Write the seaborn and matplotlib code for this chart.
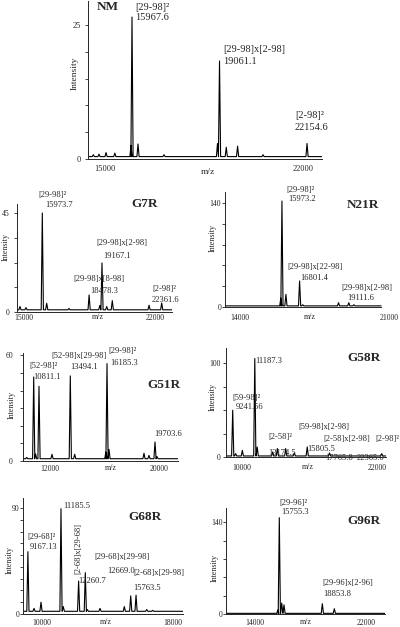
import matplotlib
matplotlib.use("Agg")
import pandas as pd
import matplotlib.pyplot as plt
import matplotlib.transforms as mtransforms
from matplotlib.ticker import MultipleLocator
import seaborn as sns

# ---- peaks: m/z and intensity ----
nm_mz = [14600, 14800, 15050, 15360, 15932, 15967.6, 16180, 17100, 18990, 19061.1, 19300, 19700, 20600, 22154.6]
nm_int = [0.8, 0.9, 1.2, 1.1, 2.5, 26.5, 2.8, 0.8, 2.9, 18.3, 2.2, 2.4, 0.8, 2.9]
nm_base = 0.45

g7r_mz = [14780, 15100, 15973.7, 16209, 17400, 18478.3, 19050, 19167.1, 19420, 19718, 21685, 22361.6]
g7r_int = [2.5, 2.0, 45.2, 4.0, 1.6, 7.8, 3.0, 22.4, 2.5, 5.2, 3.1, 4.1]
g7r_base = 1.0

n21r_mz = [15920, 15973.2, 16160, 16801.4, 16950, 18630, 19111.6, 19350]
n21r_int = [12, 142.7, 17, 35, 3, 5.8, 5.8, 3]
n21r_base = 1.5

g51r_mz = [10300, 10811.1, 10950, 11200, 12153, 13494.1, 13816, 16100, 16185.3, 16330, 18895, 19261, 19703.6, 19850]
g51r_int = [2.0, 47.7, 4.0, 42.4, 3.8, 48.3, 3.8, 5.0, 55.3, 6.6, 4.4, 3.2, 10.8, 2.5]
g51r_base = 1.3

g58r_mz = [9241.56, 9500, 10090, 11187.3, 11400, 12765, 13174.5, 13910, 14668, 15805.5, 17765.8, 22365.0]
g58r_int = [49.8, 3.6, 7.1, 104.8, 10.7, 5.3, 9.0, 9.0, 4.3, 10.7, 4.3, 3.6]
g58r_base = 1.1

g68r_mz = [9167.13, 9540, 9966, 11185.5, 11327, 12260.7, 12669.0, 12790, 13565, 15047, 15438, 15763.5, 16414, 16780]
g68r_int = [52.9, 4.8, 10.0, 89.4, 6.3, 28.0, 35.1, 3.8, 4.8, 6.3, 15.4, 16.0, 3.8, 3.1]
g68r_base = 2.3

g96r_mz = [15650, 15755.3, 15928, 16094, 18853.8, 19717]
g96r_int = [6, 147, 16.7, 14, 15.7, 8.1]
g96r_base = 1.0

# axis ranges and tick labels
nm_x, nm_xt, nm_yt = [14412, 22684], [15000, 22000], [0, 25]
g7r_x, g7r_xt, g7r_yt = [14636, 22913], [15000, 22000], [0, 45]
n21r_x, n21r_xt, n21r_yt = [13299, 21000], [14000, 21000], [0, 140]
g51r_x, g51r_xt, g51r_yt = [10005, 21389], [12000, 20000], [0, 60]
g58r_x, g58r_xt, g58r_yt = [8651, 22744], [10000, 22000], [0, 100]
g68r_x, g68r_xt, g68r_yt = [8850, 18628], [10000, 18000], [0, 90]
g96r_x, g96r_xt, g96r_yt = [11917, 23365], [14000, 22000], [0, 140]

# peak annotations
nm_labels = ["[29-98]²", "15967.6", "[29-98]x[2-98]", "19061.1", "[2-98]²", "22154.6"]
g7r_labels = ["[29-98]²", "15973.7", "[29-98]x[2-98]", "19167.1", "[29-98]x[8-98]", "18478.3", "[2-98]²", "22361.6"]
n21r_labels = ["[29-98]²", "15973.2", "[29-98]x[22-98]", "16801.4", "[29-98]x[2-98]", "19111.6"]
g51r_labels = ["[52-98]²", "10811.1", "[52-98]x[29-98]", "13494.1", "[29-98]²", "16185.3", "19703.6"]
g58r_labels = ["[59-98]²", "9241.56", "11187.3", "[2-58]²", "13174.5", "[59-98]x[2-98]", "15805.5",
               "[2-58]x[2-98]", "17765.8", "[2-98]²", "22365.0"]
g68r_labels = ["[29-68]²", "9167.13", "11185.5", "12260.7", "[29-68]x[29-98]", "12669.0",
               "[2-68]x[29-98]", "15763.5"]
g68r_vlabel = "[2-68]x[29-68]"
g96r_labels = ["[29-96]²", "15755.3", "[29-96]x[2-96]", "18853.8"]

sns.set_style("ticks")
plt.rcParams["font.family"] = ["Liberation Serif", "DejaVu Serif"]

W, H = 400, 627
fig = plt.figure(figsize=(W / 100, H / 100), dpi=100)
PX = mtransforms.Affine2D().scale(1 / W, -1 / H).translate(0, 1) + fig.transFigure


def trace(mz, inten, base, lo, hi, hw):
    xs, ys = [lo], [base]
    for m, h in sorted(zip(mz, inten)):
        xs += [m - hw, m, m + hw]
        ys += [base, h, base]
    xs.append(hi)
    ys.append(base)
    return pd.DataFrame({"mz": xs, "intensity": ys})


def panel(name, mz, inten, base, xr, xt, yt, box, ytop, ystep, ygap, xpad, big=False, spine_end=None):
    l, t, r, b = box
    ax = fig.add_axes([l / W, 1 - b / H, (r - l) / W, (b - t) / H])
    hw = 1.1 * (xr[1] - xr[0]) / (r - l)
    hi = spine_end if spine_end else xr[1]
    df = trace(mz, inten, base, xr[0], hi, hw)
    sns.lineplot(data=df, x="mz", y="intensity", sort=False, estimator=None,
                 color="black", lw=0.8, ax=ax)
    ax.set_xlim(xr)
    ax.set_ylim(0, ytop)
    ax.set_xlabel("")
    ax.set_ylabel("")
    sns.despine(ax=ax)
    for s in ["left", "bottom"]:
        ax.spines[s].set_linewidth(0.7)
    if spine_end:
        ax.spines["bottom"].set_bounds(xr[0], spine_end)
    fs = 6.0 if big else 5.6
    ax.set_xticks(xt)
    ax.set_xticklabels([str(v) for v in xt])
    ax.set_yticks(yt)
    ax.set_yticklabels([str(v) for v in yt])
    ax.yaxis.set_minor_locator(MultipleLocator(ystep))
    ax.tick_params(axis="x", length=0, pad=xpad, labelsize=fs)
    ax.tick_params(axis="y", which="both", length=2, width=0.6, direction="out",
                   pad=max(ygap - 2, 0) * 0.72, labelsize=fs)
    ax.set_facecolor("none")
    return ax


def txt(x, y, s, size=6.1, **kw):
    fig.text(x, y, s, transform=PX, fontsize=size, ha=kw.pop("ha", "left"),
             va=kw.pop("va", "center"), **kw)


# ---- NM ----
panel("NM", nm_mz, nm_int, nm_base, nm_x, nm_xt, nm_yt, (88, 1, 322, 159), 29.5, 5, 6, 4.3, big=True)
for (x, y), s in zip([(135, 7), (135, 17), (223, 49), (223, 62), (295, 115), (295, 128)], nm_labels):
    txt(x, y, s, size=7.5)
txt(97, 7, "NM", size=9.5, weight="bold")
txt(75, 73, "Intensity", size=6.8, ha="center", rotation=90)
txt(208, 172, "m/z", size=6.8, ha="center")

# ---- G7R ----
panel("G7R", g7r_mz, g7r_int, g7r_base, g7r_x, g7r_xt, g7r_yt, (17.3, 204, 172, 312), 49.3, 11.25, 7, 1.5)
for (x, y), s in zip([(38, 195), (45, 205), (96, 243), (103, 256), (73, 279), (90, 291), (152, 289), (152, 300)],
                     g7r_labels):
    txt(x, y, s)
txt(131, 204, "G7R", size=9.5, weight="bold")
txt(6, 247, "Intensity", size=5.8, ha="center", rotation=90)
txt(98, 317, "m/z", size=5.8, ha="center")

# ---- N21R ----
panel("N21R", n21r_mz, n21r_int, n21r_base, n21r_x, n21r_xt, n21r_yt, (225, 192, 389, 307), 154.8, 28, 3, 5,
      spine_end=20629)
for (x, y), s in zip([(286, 190), (288, 199), (287, 267), (300, 278), (341, 288), (347, 298)], n21r_labels):
    txt(x, y, s)
txt(347, 205, "N21R", size=9.5, weight="bold")
txt(213, 238, "Intensity", size=5.8, ha="center", rotation=90)
txt(310, 317, "m/z", size=5.8, ha="center")

# ---- G51R ----
panel("G51R", g51r_mz, g51r_int, g51r_base, g51r_x, g51r_xt, g51r_yt, (22.7, 353, 178, 461), 61.3, 10, 9, 3)
for (x, y), s in zip([(29, 366), (33, 377), (51, 356), (70, 367), (108, 351), (110, 363), (154, 434)], g51r_labels):
    txt(x, y, s)
txt(147, 385, "G51R", size=9.5, weight="bold")
txt(12, 405, "Intensity", size=5.8, ha="center", rotation=90)
txt(111, 468, "m/z", size=5.8, ha="center")

# ---- G58R ----
panel("G58R", g58r_mz, g58r_int, g58r_base, g58r_x, g58r_xt, g58r_yt, (226, 348, 386, 457), 116, 25, 5, 5)
for (x, y), s in zip([(232, 398), (236, 407), (255, 361), (268, 437), (268, 453), (298, 427), (307, 449),
                      (323, 439), (325, 458), (375, 439), (357, 458)], g58r_labels):
    txt(x, y, s)
txt(347, 358, "G58R", size=9.5, weight="bold")
txt(213, 397, "Intensity", size=5.8, ha="center", rotation=90)
txt(308, 467, "m/z", size=5.8, ha="center")

# ---- G68R ----
panel("G68R", g68r_mz, g68r_int, g68r_base, g68r_x, g68r_xt, g68r_yt, (22.7, 498, 183, 614), 98.5, 10, 2.5, 3.6)
for (x, y), s in zip([(27, 537), (30, 547), (63, 506), (78, 581), (94, 557), (107, 571), (133, 573), (133, 588)],
                     g68r_labels):
    txt(x, y, s)
txt(78, 548, g68r_vlabel, ha="center", rotation=90)
txt(128, 517, "G68R", size=9.5, weight="bold")
txt(10, 560, "Intensity", size=5.8, ha="center", rotation=90)
txt(106, 622, "m/z", size=5.8, ha="center")

# ---- G96R ----
panel("G96R", g96r_mz, g96r_int, g96r_base, g96r_x, g96r_xt, g96r_yt, (226, 508, 385, 614), 161.8, 28, 2.5, 3.6)
for (x, y), s in zip([(279, 503), (281, 512), (322, 583), (323, 594)], g96r_labels):
    txt(x, y, s)
txt(347, 521, "G96R", size=9.5, weight="bold")
txt(215, 568, "Intensity", size=5.8, ha="center", rotation=90)
txt(306, 622, "m/z", size=5.8, ha="center")

fig.savefig("out.png", dpi=100)
